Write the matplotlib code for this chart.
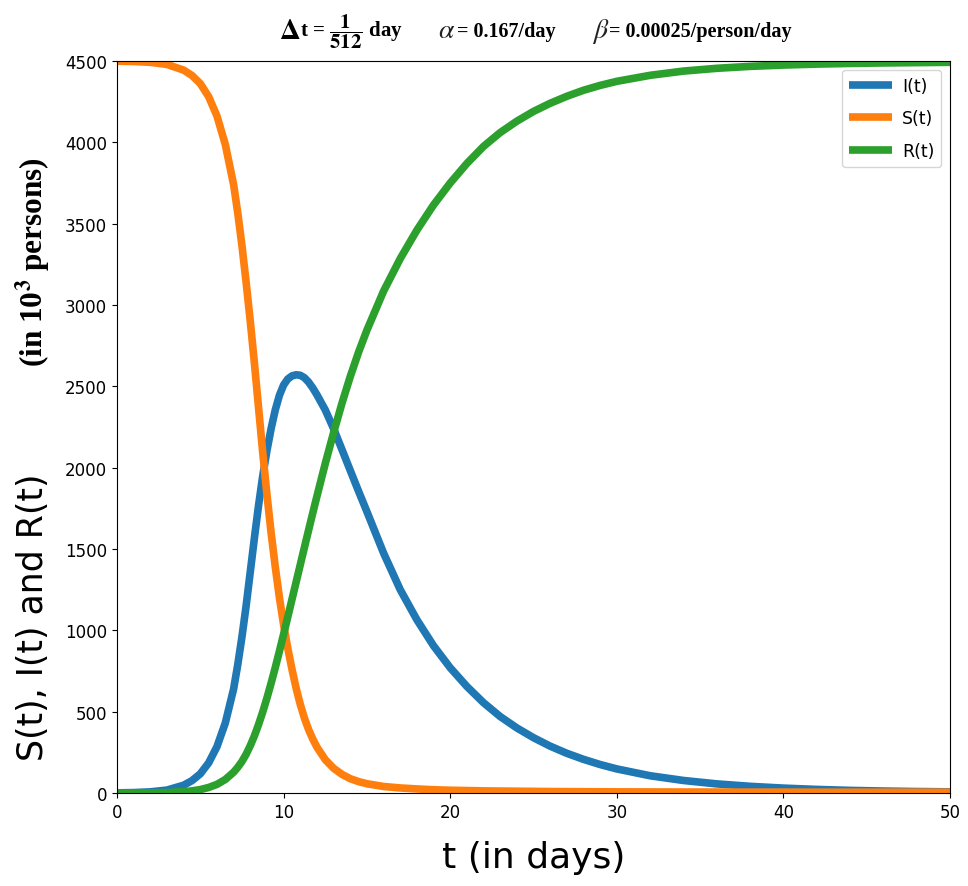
import numpy as np
import matplotlib
matplotlib.use('Agg')
import matplotlib.pyplot as plt

plt.rcParams['mathtext.fontset'] = 'stix'

# values (thousands of persons)
t_days = [0, 1, 2, 3, 4, 4.5, 5, 5.5, 6, 6.5, 7,
          7.25, 7.5, 7.75, 8, 8.25, 8.5, 8.75, 9, 9.25, 9.5, 9.75, 10, 10.25, 10.5, 10.75,
          11, 11.25, 11.5, 11.75, 12,
          12.5, 13, 13.5, 14, 14.5, 15,
          16, 17, 18, 19, 20, 21, 22, 23, 24, 25, 26, 27, 28, 29, 30,
          32, 34, 36, 38, 40, 42, 44, 46, 48, 50]
I_vals = [1, 2.5, 7, 18, 48, 76, 118, 185, 285, 430, 640,
          790, 960, 1150, 1360, 1570, 1770, 1950, 2105, 2240, 2355, 2445, 2508, 2545, 2564, 2571,
          2568, 2553, 2526, 2490, 2448,
          2355, 2240, 2112, 1983, 1855, 1730,
          1475, 1250, 1065, 905, 770, 655, 555, 470, 400, 340, 288, 244, 207, 175, 148,
          106, 77, 56, 41, 30, 22, 16, 12, 9, 7]
S_vals = [4499, 4497, 4492, 4479, 4444, 4411, 4361, 4281, 4162, 3987, 3740,
          3565, 3365, 3140, 2900, 2640, 2365, 2090, 1835, 1600, 1390, 1200, 1035, 890, 762, 645,
          545, 460, 390, 332, 282,
          205, 152, 115, 88, 70, 57,
          40, 31, 25, 20, 17, 15, 13, 12, 11, 10, 9, 8.5, 8, 7.5, 7,
          6.5, 6, 6, 5.5, 5.5, 5, 5, 5, 5, 5]
R_vals = [0, 0.3, 1, 3, 8, 13, 21, 34, 53, 83, 128,
          158, 194, 238, 291, 352, 422, 499, 584, 675, 771, 872, 976, 1082, 1189, 1296,
          1403, 1510, 1616, 1721, 1824,
          2025, 2215, 2395, 2560, 2710, 2845,
          3085, 3285, 3460, 3615, 3750, 3870, 3975, 4060, 4130, 4190, 4240, 4283, 4320, 4350, 4375,
          4412, 4438, 4455, 4467, 4475, 4481, 4485, 4488, 4490, 4492]
series_names = ['I(t)', 'S(t)', 'R(t)']
x_ticks = [0, 10, 20, 30, 40, 50]
y_ticks = list(range(0, 4501, 500))

W, H = 968, 887
def fx(px):
	return px / W
def fy(py):
	return 1 - py / H

fig = plt.figure(figsize=(W / 100, H / 100), dpi=100)
ax = fig.add_axes([fx(117), fy(794), (950 - 117) / W, (794 - 62) / H])

lw = 5.5
style = dict(lw=lw, solid_capstyle='butt', solid_joinstyle='round')
ax.plot(t_days, I_vals, color='#1f77b4', label=series_names[0], **style)
ax.plot(t_days, S_vals, color='#ff7f0e', label=series_names[1], **style)
ax.plot(t_days, R_vals, color='#2ca02c', label=series_names[2], **style)

ax.set_xlim(0, 50)
ax.set_ylim(0, 4500)
ax.set_xticks(x_ticks)
ax.set_yticks(y_ticks)
ax.tick_params(labelsize=12)
ax.legend(loc='upper right', fontsize=12.5, labelspacing=0.85, handlelength=2.5,
	handletextpad=0.55, borderpad=0.4, borderaxespad=0.5)

# axis labels
fig.text(fx(534), fy(858), 't (in days)', fontsize=26, ha='center', va='center')
fig.text(fx(33), fy(617), 'S(t), I(t) and R(t)', fontsize=25, rotation=90,
	ha='center', va='center')
fig.text(fx(33), fy(262), r'(in 10$^{\mathbf{3}}$ persons)', fontsize=22.5, rotation=90,
	ha='center', va='center', family='Liberation Serif', weight='bold')

# header with parameters
fig.text(fx(279), fy(31), r'$\mathbf{\Delta}$', fontsize=21, ha='left', va='center')
fig.text(fx(300), fy(32), r't = $\dfrac{\mathbf{1}}{\mathbf{512}}$ day',
	fontsize=15, ha='left', va='center', family='Liberation Serif', weight='bold')
fig.text(fx(438), fy(31), r'$\alpha$', fontsize=20, ha='left', va='center',
	family='Liberation Serif', color='#222222')
fig.text(fx(457), fy(32), '= 0.167/day', fontsize=14.5, ha='left', va='center',
	family='Liberation Serif', weight='bold')
fig.text(fx(592), fy(31), r'$\beta$', fontsize=20, ha='left', va='center',
	family='Liberation Serif', color='#222222')
fig.text(fx(609), fy(32), '= 0.00025/person/day', fontsize=14.5, ha='left', va='center',
	family='Liberation Serif', weight='bold')

fig.savefig('out.png', dpi=100)
